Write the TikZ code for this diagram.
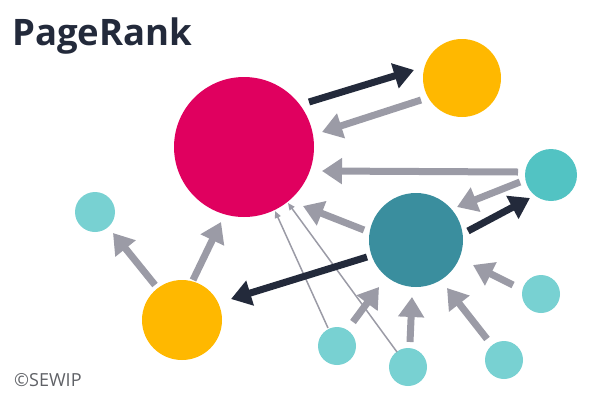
\documentclass[tikz,border=0pt]{standalone}
\usepackage{fontspec}
\setmainfont{Open Sans}
\usetikzlibrary{arrows.meta}
\definecolor{pinkc}{HTML}{E0005F}
\definecolor{yellowc}{HTML}{FFB800}
\definecolor{tealc}{HTML}{3A8E9E}
\definecolor{cyanc}{HTML}{52C3C3}
\definecolor{lightc}{HTML}{78D1D2}
\definecolor{inkc}{HTML}{232A3B}
\definecolor{greyc}{HTML}{9B9BA6}
\definecolor{copyc}{HTML}{5F6166}
\begin{document}
\begin{tikzpicture}[x=1pt,y=-1pt,
  dot/.style={circle,inner sep=0pt,minimum size=#1,draw=none},
  boldarrow/.style={line width=7pt,-{Triangle[width=25pt,length=20pt]},draw=inkc},
  softarrow/.style={line width=7pt,-{Triangle[width=25pt,length=20pt]},draw=greyc},
  thinarrow/.style={line width=1.5pt,-{Triangle[width=6pt,length=7pt]},draw=greyc}]
\useasboundingbox (0,0) rectangle (600,400);

% title and credit
\node[anchor=base west,inner sep=0pt,text=inkc,font=\bfseries\fontsize{36.5}{40}\selectfont] (title) at (12,45) {PageRank};
\node[anchor=base west,inner sep=0pt,text=copyc,font=\fontsize{18}{20}\selectfont] (credit) at (14,386) {©SEWIP};

% pages
\node[dot=140pt,fill=pinkc] (pink) at (244,147) {};
\node[dot=78pt,fill=yellowc] (ytop) at (462,78) {};
\node[dot=52pt,fill=cyanc] (cright) at (551,175) {};
\node[dot=94pt,fill=tealc] (hub) at (416,240) {};
\node[dot=80pt,fill=yellowc] (ybot) at (182,320) {};
\node[dot=40pt,fill=lightc] (cleft) at (95,212) {};
\node[dot=38pt,fill=lightc] (s1) at (337,346) {};
\node[dot=38pt,fill=lightc] (s2) at (408,367) {};
\node[dot=38pt,fill=lightc] (s3) at (504,360) {};
\node[dot=38pt,fill=lightc] (s4) at (541,294) {};

% connector ends
\coordinate (d1a) at (309,102); \coordinate (d1b) at (414,70);
\coordinate (d2a) at (468,231); \coordinate (d2b) at (530,198);
\coordinate (d3a) at (367,257); \coordinate (d3b) at (231,299);
\coordinate (g1a) at (421,100); \coordinate (g1b) at (322,132);
\coordinate (g2a) at (518,172); \coordinate (g2b) at (322,171);
\coordinate (g3a) at (520,182); \coordinate (g3b) at (457,207);
\coordinate (g4a) at (364,230); \coordinate (g4b) at (303,206);
\coordinate (g5a) at (353,322); \coordinate (g5b) at (379,287);
\coordinate (g6a) at (410,342); \coordinate (g6b) at (412,297);
\coordinate (g7a) at (487,339); \coordinate (g7b) at (447,288);
\coordinate (g8a) at (513,285); \coordinate (g8b) at (473,265);
\coordinate (g9a) at (155,285); \coordinate (g9b) at (113,233);
\coordinate (g10a) at (193,280); \coordinate (g10b) at (221,222);
\coordinate (t1a) at (328,328); \coordinate (t1b) at (275,211);
\coordinate (t2a) at (397,352); \coordinate (t2b) at (288,203);

% links
\draw[thinarrow] (t1a) -- (t1b);
\draw[thinarrow] (t2a) -- (t2b);
\draw[softarrow] (g1a) -- (g1b);
\draw[softarrow] (g2a) -- (g2b);
\draw[softarrow] (g3a) -- (g3b);
\draw[softarrow] (g4a) -- (g4b);
\draw[softarrow] (g5a) -- (g5b);
\draw[softarrow] (g6a) -- (g6b);
\draw[softarrow] (g7a) -- (g7b);
\draw[softarrow] (g8a) -- (g8b);
\draw[softarrow] (g9a) -- (g9b);
\draw[softarrow] (g10a) -- (g10b);
\draw[boldarrow] (d1a) -- (d1b);
\draw[boldarrow] (d2a) -- (d2b);
\draw[boldarrow] (d3a) -- (d3b);
\end{tikzpicture}
\end{document}
